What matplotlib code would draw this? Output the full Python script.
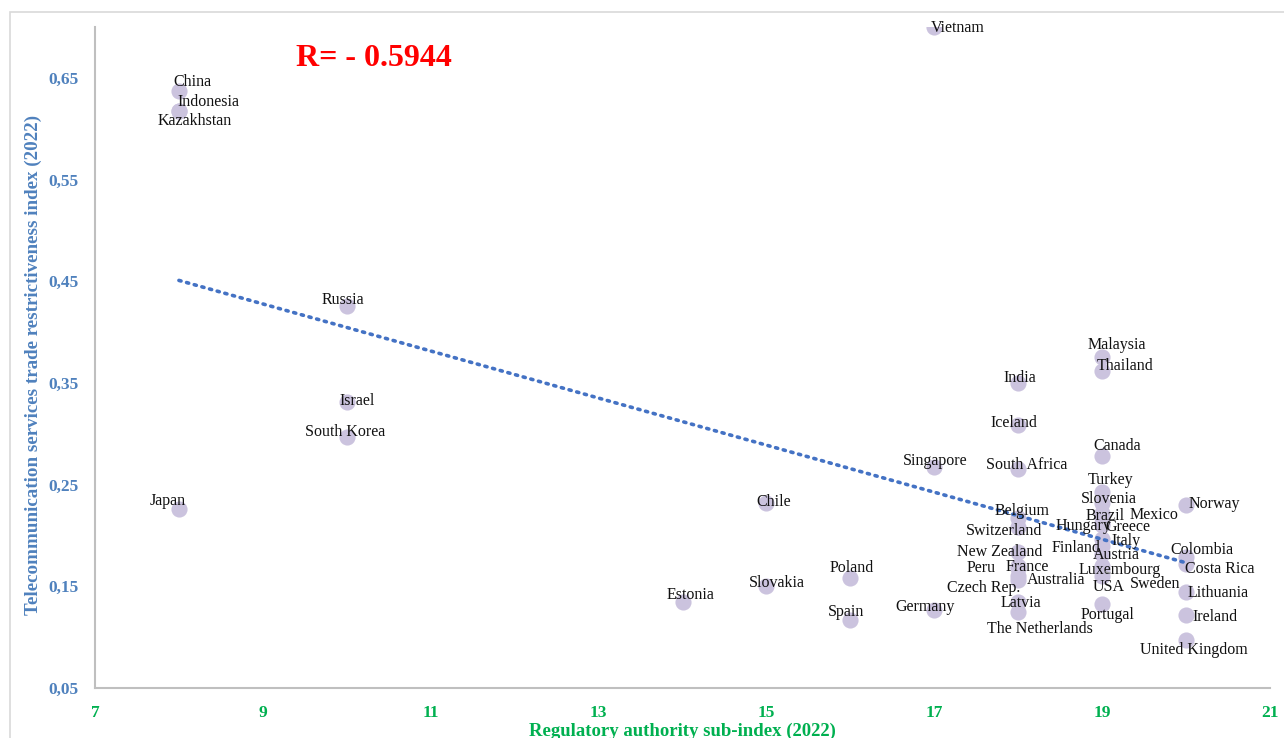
import numpy as np
import matplotlib
matplotlib.use("Agg")
import matplotlib.pyplot as plt
from matplotlib.ticker import FuncFormatter
from matplotlib.patches import Rectangle

plt.rcParams['font.family'] = ['Liberation Serif', 'DejaVu Serif']

# data
countries = ["Vietnam", "China", "Indonesia", "Kazakhstan", "Japan", "Russia", "Israel",
             "South Korea", "Estonia", "Slovakia", "Chile", "Poland", "Spain", "Germany",
             "Singapore", "India", "Iceland", "South Africa", "Belgium", "Switzerland",
             "New Zealand", "France", "Peru", "Australia", "Czech Rep.", "Latvia",
             "The Netherlands", "Malaysia", "Thailand", "Canada", "Turkey", "Slovenia",
             "Brazil", "Mexico", "Hungary", "Greece", "Italy", "Finland", "Austria",
             "Luxembourg", "Sweden", "USA", "Portugal", "Norway", "Colombia", "Costa Rica",
             "Lithuania", "Ireland", "United Kingdom"]
reg_index = [17, 8, 8, 8, 8, 10, 10,
             10, 14, 15, 15, 16, 16, 17,
             17, 18, 18, 18, 18, 18,
             18, 18, 18, 18, 18, 18,
             18, 19, 19, 19, 19, 19,
             19, 19, 19, 19, 19, 19, 19,
             19, 19, 19, 19, 20, 20, 20,
             20, 20, 20]
stri = [0.700, 0.637, 0.617, 0.617, 0.226, 0.426, 0.331,
        0.297, 0.135, 0.150, 0.232, 0.158, 0.117, 0.127,
        0.267, 0.350, 0.309, 0.265, 0.217, 0.208,
        0.184, 0.170, 0.168, 0.160, 0.156, 0.135,
        0.125, 0.375, 0.362, 0.278, 0.243, 0.232,
        0.222, 0.218, 0.212, 0.210, 0.197, 0.190, 0.182,
        0.170, 0.165, 0.160, 0.133, 0.230, 0.179, 0.172,
        0.144, 0.122, 0.097]
r_value = "R= - 0.5944"

# label offsets from each dot, in pixels
label_off = [(23, 1), (14, 11), (30, 11), (16, -8), (-11, 10), (-4, 8), (10, 3),
             (-2, 7), (8, 9), (10, 5), (7, 3), (1, 12), (-4, 10), (-9, 5),
             (1, 8), (2, 7), (-4, 4), (8, 6), (4, 9), (-14, -2),
             (-19, 2), (9, 1), (-37, 2), (38, -2), (-35, -6), (3, 1),
             (22, -15), (15, 14), (23, 7), (15, 12), (8, 14), (7, 6),
             (3, -1), (52, 4), (-19, -1), (26, 0), (24, 0), (-26, 0), (14, 1),
             (18, -2), (53, -11), (7, -9), (5, -9), (28, 3), (16, 9), (34, -3),
             (32, 1), (29, 0), (8, -8)]
leader = ["Peru", "Sweden"]

fig = plt.figure(figsize=(12.84, 7.38), dpi=100)
fig.patches.append(Rectangle((10 / 1284, -0.1), 1.2, 1 - 12 / 738 + 0.1, transform=fig.transFigure,
                             fill=False, edgecolor='#d9d9d9', linewidth=1.2))
ax = fig.add_axes([95 / 1284, 1 - 688 / 738, 1175 / 1284, 661 / 738])

ax.scatter(reg_index, stri, s=135, color='#cbc3de', zorder=2, linewidths=0)

# linear trend line
k, b = np.polyfit(reg_index, stri, 1)
xs = np.array([min(reg_index), max(reg_index)])
ax.plot(xs, k * xs + b, linestyle=(0, (0.6, 1.6)), color='#4472c4', linewidth=2.6,
        dash_capstyle='round', zorder=3)

for name, x, y, off in zip(countries, reg_index, stri, label_off):
    off = (off[0], off[1] - 2)
    if name in leader:
        ax.annotate(name, (x, y), xytext=off, textcoords='offset pixels', ha='center', va='center',
                    fontsize=11.5, color='#111111', zorder=4,
                    arrowprops=dict(arrowstyle='-', color='#999999', lw=0.8, shrinkA=12, shrinkB=2))
    else:
        ax.annotate(name, (x, y), xytext=off, textcoords='offset pixels', ha='center', va='center',
                    fontsize=11.5, color='#111111', zorder=4)

ax.text(0.237, 0.953, r_value, transform=ax.transAxes, ha='center', va='center',
        fontsize=23, fontweight='bold', color='#ff0000')

ax.set_xlim(7, 21)
ax.set_ylim(0.05, 0.70)
ax.set_xticks(np.arange(7, 22, 2))
ax.set_yticks([0.05, 0.15, 0.25, 0.35, 0.45, 0.55, 0.65])
ax.yaxis.set_major_formatter(FuncFormatter(lambda v, p: f"{v:.2f}".replace('.', ',')))
ax.tick_params(axis='both', length=0)
ax.tick_params(axis='y', pad=12, labelsize=12.5, labelcolor='#4f81bd')
ax.tick_params(axis='x', pad=12, labelsize=12.5, labelcolor='#00b050')
for lab in ax.get_xticklabels() + ax.get_yticklabels():
    lab.set_fontweight('bold')

for s in ['top', 'right']:
    ax.spines[s].set_visible(False)
for s in ['left', 'bottom']:
    ax.spines[s].set_color('#bfbfbf')
    ax.spines[s].set_linewidth(1.5)

ax.set_xlabel("Regulatory authority sub-index (2022)", fontsize=13.5, fontweight='bold',
              color='#00b050', va='center')
ax.xaxis.set_label_coords(0.5, -0.066)
ax.set_ylabel("Telecommunication services trade restrictiveness index (2022)", fontsize=13.7,
              fontweight='bold', color='#4f81bd', va='center')
ax.yaxis.set_label_coords(-0.0528, 0.489)

fig.savefig("out.png", dpi=100)
